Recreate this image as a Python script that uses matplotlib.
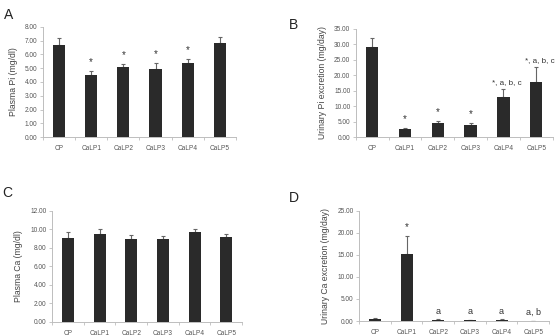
import matplotlib
matplotlib.use("Agg")
import matplotlib.pyplot as plt
import numpy as np

plt.rcParams['font.family'] = ['Liberation Sans', 'DejaVu Sans']

categories = ["CP", "CaLP1", "CaLP2", "CaLP3", "CaLP4", "CaLP5"]

plasma_pi = [6.68, 4.48, 5.08, 4.92, 5.38, 6.81]
plasma_pi_err = [0.52, 0.33, 0.22, 0.44, 0.29, 0.49]
plasma_pi_marks = ["", "*", "*", "*", "*", ""]

urinary_pi = [29.1, 2.6, 4.7, 4.0, 13.1, 17.8]
urinary_pi_err = [2.9, 0.3, 0.5, 0.6, 2.4, 4.8]
urinary_pi_marks = ["", "*", "*", "*", "*, a, b, c", "*, a, b, c"]

plasma_ca = [9.10, 9.50, 9.00, 8.98, 9.75, 9.13]
plasma_ca_err = [0.60, 0.57, 0.35, 0.29, 0.25, 0.36]
plasma_ca_marks = ["", "", "", "", "", ""]

urinary_ca = [0.40, 15.15, 0.30, 0.20, 0.30, 0.05]
urinary_ca_err = [0.20, 4.05, 0.10, 0.10, 0.10, 0.05]
urinary_ca_marks = ["", "*", "a", "a", "a", "a, b"]

fig = plt.figure(figsize=(5.56, 3.36), dpi=100)

panels = [
    ("A", [0.0773, 0.592, 0.347, 0.328], plasma_pi, plasma_pi_err, plasma_pi_marks,
     8, 1, "Plasma Pi (mg/dl)", (0.008, 0.955)),
    ("B", [0.640, 0.592, 0.354, 0.322], urinary_pi, urinary_pi_err, urinary_pi_marks,
     35, 5, "Urinary Pi excretion (mg/day)", (0.520, 0.925)),
    ("C", [0.0935, 0.0417, 0.342, 0.331], plasma_ca, plasma_ca_err, plasma_ca_marks,
     12, 2, "Plasma Ca (mg/dl)", (0.004, 0.425)),
    ("D", [0.6457, 0.0446, 0.342, 0.328], urinary_ca, urinary_ca_err, urinary_ca_marks,
     25, 5, "Urinary Ca excretion (mg/day)", (0.520, 0.410)),
]

axis_color = "#bdbdbd"
text_color = "#555555"
x = np.arange(len(categories))

for label, pos, vals, errs, marks, ymax, step, ylabel, lpos in panels:
    ax = fig.add_axes(pos)
    ax.bar(x, vals, width=0.38, color="#2a2a2a", zorder=2)
    ax.errorbar(x, vals, yerr=[np.zeros(len(vals)), errs], fmt="none",
                ecolor="#666666", elinewidth=0.8, capsize=1.5, capthick=0.8, zorder=1)
    for xi, v, e, m in zip(x, vals, errs, marks):
        if not m:
            continue
        if m == "*":
            ax.text(xi, v + e + ymax * 0.035, m, ha="center", va="bottom",
                    fontsize=7, color="#333333")
        elif len(m) > 4:
            ax.text(xi - 0.35, v + e + ymax * 0.025, m, ha="left", va="bottom",
                    fontsize=5.8, color="#333333")
        else:
            ax.text(xi, v + e + ymax * 0.03, m, ha="center", va="bottom",
                    fontsize=6.5, color="#333333")
    ax.set_xlim(-0.5, 5.5)
    ax.set_ylim(0, ymax)
    ticks = np.arange(0, ymax + 0.001, step)
    ax.set_yticks(ticks)
    ax.set_yticklabels([f"{t:.2f}" for t in ticks])
    ax.set_xticks(x)
    ax.set_xticklabels(categories)
    ax.set_xticks(np.arange(-0.5, 6, 1), minor=True)
    ax.tick_params(axis="x", which="major", length=0, labelsize=4.7,
                   labelcolor=text_color, pad=6)
    ax.tick_params(axis="x", which="minor", length=2.5, color=axis_color, width=0.6)
    ax.tick_params(axis="y", length=2, color=axis_color, width=0.6, labelsize=4.7,
                   labelcolor=text_color, pad=2)
    for s in ["top", "right"]:
        ax.spines[s].set_visible(False)
    for s in ["left", "bottom"]:
        ax.spines[s].set_color(axis_color)
        ax.spines[s].set_linewidth(0.7)
    ax.set_ylabel(ylabel, fontsize=6.2, color="#444444", labelpad=5)
    ax.patch.set_alpha(0)
    fig.text(lpos[0], lpos[1], label, fontsize=10, color="#222222", ha="left", va="center")

fig.savefig("out.png", dpi=100)
